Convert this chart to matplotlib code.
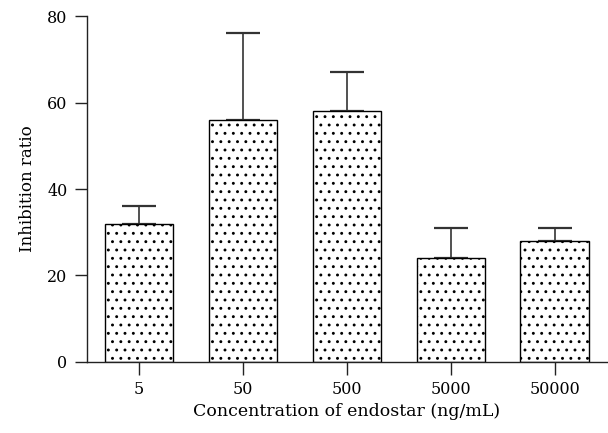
import numpy as np
import matplotlib.pyplot as plt

plt.rcParams['font.family'] = ['DejaVu Serif']
plt.rcParams['hatch.linewidth'] = 0.9

# datos
conc = ['5', '50', '500', '5000', '50000']
inhibition = [32, 56, 58, 24, 28]
err = [4, 20, 9, 7, 3]

fig = plt.figure(figsize=(6.08, 4.33), dpi=100)
ax = fig.add_axes([0.143, 0.164, 0.855, 0.799])

x = np.arange(len(conc))
ax.bar(x, inhibition, width=0.66, color='white', edgecolor='black',
       linewidth=1.0, hatch='..', zorder=2)
ax.errorbar(x, inhibition, yerr=[np.zeros(len(err)), err], fmt='none',
            ecolor='#333333', elinewidth=1.2, capsize=12.5, capthick=1.6, zorder=1)

ax.set_xlim(-0.5, 4.5)
ax.set_ylim(0, 80)
ax.set_yticks([0, 20, 40, 60, 80])
ax.set_xticks(x)
ax.set_xticklabels(conc)

for s in ['top', 'right']:
    ax.spines[s].set_visible(False)
for s in ['left', 'bottom']:
    ax.spines[s].set_linewidth(1.0)
    ax.spines[s].set_color('#222222')

ax.tick_params(axis='both', direction='out', length=9, width=1.0,
               labelsize=11.5, colors='#222222', labelcolor='black', pad=5)
ax.set_xlabel('Concentration of endostar (ng/mL)', fontsize=12.5, labelpad=3)
ax.set_ylabel('Inhibition ratio', fontsize=12, labelpad=8)

fig.savefig('out.png', dpi=100)
